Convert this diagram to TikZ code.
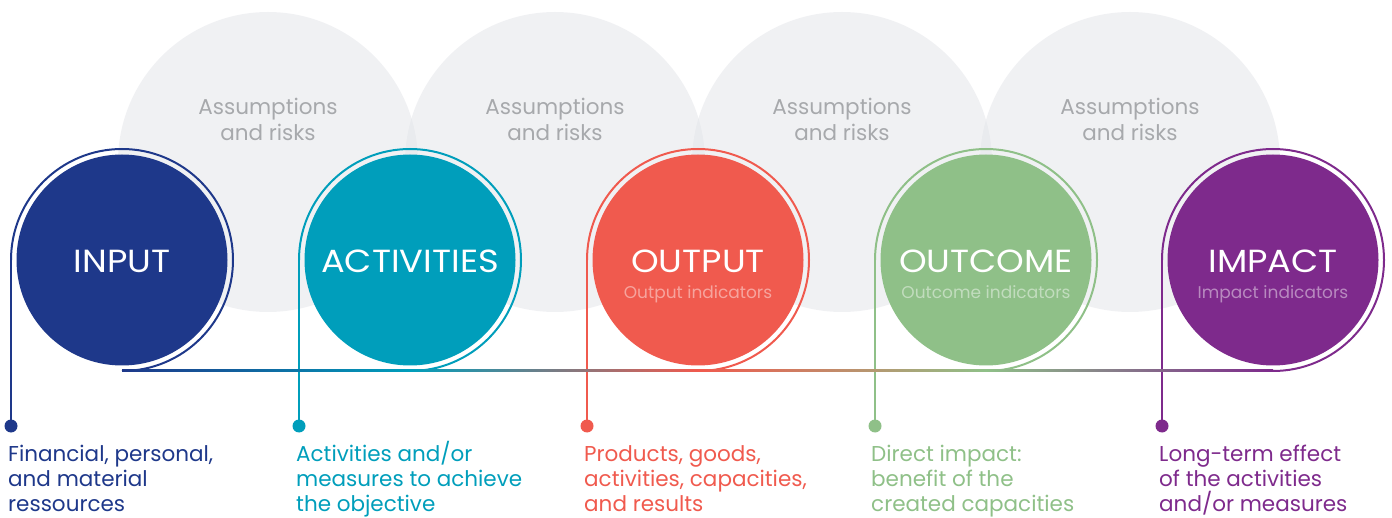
\documentclass[tikz,border=0pt]{standalone}
\usepackage{fontspec}
\setmainfont{Poppins}
\newfontfamily\ttlfont[FakeStretch=1.1]{Poppins}
\definecolor{cin}{RGB}{30,56,138}
\definecolor{cact}{RGB}{0,158,187}
\definecolor{cout}{RGB}{240,90,78}
\definecolor{coc}{RGB}{143,192,136}
\definecolor{cimp}{RGB}{126,42,140}
\definecolor{grayfill}{RGB}{226,228,232}
\definecolor{graytext}{RGB}{167,169,172}
\newcommand{\topstrut}{\rule{0pt}{20pt}}
\tikzset{
  bgcirc/.style={fill=grayfill, fill opacity=0.5},
  grtxt/.style={text=graytext, align=center, inner sep=0pt, font=\fontsize{21.5}{26}\selectfont},
  disc/.style={circle, minimum size=211pt, inner sep=0pt},
  ring/.style={line width=2pt},
  dotnode/.style={circle, minimum size=13pt, inner sep=0pt},
  ttl/.style={text=white, inner sep=0pt, anchor=base, font=\ttlfont\fontsize{32}{34}\selectfont},
  sub/.style={text=white, text opacity=0.45, inner sep=0pt, anchor=base, font=\fontsize{17}{18}\selectfont},
  lbl/.style={align=left, inner sep=0pt, anchor=north west, font=\fontsize{21.5}{25}\selectfont},
}
\begin{document}
\begin{tikzpicture}[x=1pt,y=-1pt]
\useasboundingbox (0,0) rectangle (1392,518);
% background circles
\foreach \cx/\nm in {268/ar1,555/ar2,842/ar3,1130/ar4}{
  \fill[bgcirc] (\cx,162) circle[radius=150pt];
  \node[grtxt] (\nm) at (\cx,119) {Assumptions\\and risks};
}
% main discs
\node[disc, fill=cin]  (in)  at (122,260) {};
\node[disc, fill=cact] (act) at (410,260) {};
\node[disc, fill=cout] (out) at (698,260) {};
\node[disc, fill=coc]  (oc)  at (986,260) {};
\node[disc, fill=cimp] (imp) at (1273,260) {};
% ring start points, bottoms, dots
\foreach \nm/\cx/\col in {in/122/cin,act/410/cact,out/698/cout,oc/986/coc,imp/1273/cimp}{
  \coordinate (\nm-l) at (\cx-111,260);
  \coordinate (\nm-b) at (\cx,371);
  \node[dotnode, fill=\col] (\nm-d) at (\cx-111,426) {};
  \draw[ring, draw=\col] (\nm-l) arc[start angle=180, end angle=-90, radius=111pt];
  \draw[ring, draw=\col] (\nm-l) -- (\nm-d.center);
}
% gradient baseline
\shade[left color=cin,  right color=cact] ([yshift=1pt]in-b)  rectangle ([yshift=-1pt]act-b);
\shade[left color=cact, right color=cout] ([yshift=1pt]act-b) rectangle ([yshift=-1pt]out-b);
\shade[left color=cout, right color=coc]  ([yshift=1pt]out-b) rectangle ([yshift=-1pt]oc-b);
\shade[left color=coc,  right color=cimp] ([yshift=1pt]oc-b)  rectangle ([yshift=-1pt]imp-b);
% titles
\node[ttl] (t1) at (122,273) {INPUT};
\node[ttl] (t2) at (410,273) {ACTIVITIES};
\node[ttl] (t3) at (698,273) {OUTPUT};
\node[ttl] (t4) at (986,273) {OUTCOME};
\node[ttl] (t5) at (1273,273) {IMPACT};
\node[sub] (s3) at (698,299) {Output indicators};
\node[sub] (s4) at (986,299) {Outcome indicators};
\node[sub] (s5) at (1273,299) {Impact indicators};
% labels
\node[lbl, text=cin]  (l1) at (8,441)    {\topstrut Financial, personal,\\and material\\ressources};
\node[lbl, text=cact] (l2) at (296,441)  {\topstrut Activities and/or\\measures to achieve\\the objective};
\node[lbl, text=cout] (l3) at (584,441)  {\topstrut Products, goods,\\activities, capacities,\\and results};
\node[lbl, text=coc]  (l4) at (871,441)  {\topstrut Direct impact:\\benefit of the\\created capacities};
\node[lbl, text=cimp] (l5) at (1159,441) {\topstrut Long-term effect\\of the activities\\and/or measures};
\end{tikzpicture}
\end{document}
